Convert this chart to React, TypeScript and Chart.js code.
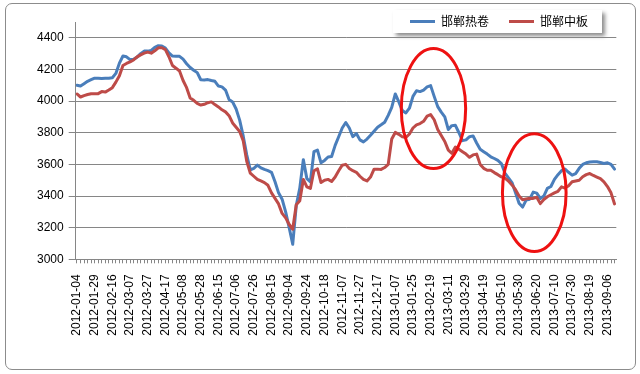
import React, { useEffect, useRef } from 'react';
import { Chart, registerables } from 'chart.js';

Chart.register(...registerables);

// ---------- data ----------
const seriesNames = ['邯郸热卷', '邯郸中板'];

const xTickLabels = [
  '2012-01-04', '2012-01-29', '2012-02-16', '2012-03-07', '2012-03-27', '2012-04-17',
  '2012-05-08', '2012-05-28', '2012-06-15', '2012-07-06', '2012-07-26', '2012-08-15',
  '2012-09-04', '2012-09-24', '2012-10-18', '2012-11-07', '2012-11-27', '2012-12-17',
  '2013-01-07', '2013-01-25', '2013-02-19', '2013-03-11', '2013-03-29', '2013-04-19',
  '2013-05-10', '2013-05-30', '2013-06-20', '2013-07-10', '2013-07-30', '2013-08-19',
  '2013-09-06',
];
const pointsPerLabel = 5;

const hotRolled = [
  4100, 4095, 4110, 4125, 4135, 4145, 4145, 4143, 4145, 4144, 4148, 4175, 4240, 4285, 4280,
  4262, 4265, 4278, 4300, 4316, 4316, 4320, 4340, 4350, 4348, 4335, 4305, 4285, 4283, 4283,
  4265, 4236, 4212, 4195, 4180, 4135, 4134, 4136, 4130, 4125, 4095, 4090, 4070, 4010,
  3995, 3950, 3880, 3780, 3660, 3565, 3575, 3595, 3578, 3568, 3560, 3550, 3490, 3420, 3380,
  3300, 3200, 3095, 3340, 3450, 3630, 3510, 3490, 3680, 3690, 3610, 3625, 3647, 3650,
  3720, 3775, 3830, 3865, 3830, 3775, 3795, 3755, 3742, 3760, 3784, 3810, 3835, 3850, 3866,
  3910, 3960, 4045, 3995, 3940, 3925, 3955, 4030, 4065, 4060, 4070, 4090, 4098, 4030,
  3965, 3930, 3900, 3820, 3845, 3847, 3800, 3750, 3755, 3775, 3780, 3735, 3695, 3680, 3665,
  3648, 3637, 3625, 3605, 3545, 3515, 3485, 3420, 3355, 3330, 3374, 3380, 3425, 3418,
  3385, 3400, 3448, 3460, 3505, 3535, 3560, 3570, 3550, 3532, 3542, 3575, 3600, 3610, 3615,
  3616, 3616, 3612, 3606, 3610, 3600, 3570,
];

const mediumPlate = [
  4045, 4026, 4035, 4042, 4047, 4047, 4047, 4060, 4057, 4070, 4085, 4120, 4160, 4225, 4238,
  4248, 4260, 4280, 4292, 4303, 4310, 4303, 4318, 4337, 4337, 4325, 4280, 4225, 4208, 4190,
  4130, 4085, 4020, 4005, 3985, 3975, 3980, 3990, 3995, 3978, 3963, 3945, 3932, 3908,
  3862, 3835, 3808, 3750, 3620, 3545, 3525, 3505, 3495, 3485, 3468, 3420, 3385, 3350, 3290,
  3262, 3220, 3190, 3345, 3370, 3505, 3458, 3448, 3560, 3572, 3485, 3500, 3505, 3492,
  3520, 3560, 3595, 3600, 3574, 3560, 3550, 3525, 3505, 3495, 3520, 3570, 3570, 3568, 3580,
  3600, 3760, 3802, 3790, 3774, 3770, 3792, 3830, 3850, 3858, 3872, 3905, 3915, 3882,
  3820, 3782, 3745, 3690, 3670, 3710, 3695, 3680, 3665, 3645, 3660, 3665, 3600, 3575, 3563,
  3563, 3548, 3535, 3521, 3513, 3495, 3470, 3440, 3400, 3376, 3382, 3386, 3385, 3392,
  3352, 3378, 3395, 3408, 3420, 3430, 3458, 3450, 3465, 3490, 3495, 3500, 3522, 3535, 3542,
  3530, 3520, 3510, 3490, 3460, 3420, 3350,
];

const yTickValues = [3000, 3200, 3400, 3600, 3800, 4000, 4200, 4400];
const yMin = 3000;
const yMax = 4500;

// hand-drawn highlight ellipses, in data units (index, price)
const highlightEllipses = [
  { xCenter: 100.8, yCenter: 3953, xRadius: 9.1, yRadius: 379 },
  { xCenter: 129.3, yCenter: 3421, xRadius: 9.0, yRadius: 372 },
];

// ---------- styles ----------
const BLUE = '#4A7EBB';
const RED = '#BE4B48';
const AXIS = '#868686';
const ELLIPSE = '#ee1111';
const LATIN = '"Liberation Sans", Arial, sans-serif';
const CJK = '"Noto Sans CJK SC", "Noto Sans", sans-serif';

const legendPlacement = {
  id: 'legendPlacement',
  afterLayout(chart: any) {
    const lg = chart.legend;
    if (!lg) return;
    lg.left = 390;
    lg.top = -4.5;
    lg.bottom = lg.top + 44;
  },
};

const legendBackground = {
  id: 'legendBackground',
  beforeDraw(chart: any) {
    const lg = chart.legend;
    if (!lg || !lg.legendHitBoxes || !lg.legendHitBoxes.length) return;
    const hb = lg.legendHitBoxes;
    const first = hb[0];
    const last = hb[hb.length - 1];
    const cy = first.top + first.height / 2;
    const x0 = first.left - 17;
    const x1 = last.left + last.width + 14;
    const ctx = chart.ctx;
    ctx.save();
    ctx.shadowColor = 'rgba(0,0,0,0.45)';
    ctx.shadowBlur = 4;
    ctx.shadowOffsetX = 3;
    ctx.shadowOffsetY = 3;
    ctx.fillStyle = '#ffffff';
    ctx.fillRect(x0, cy - 11.5, x1 - x0, 23);
    ctx.restore();
  },
};

const ellipsePlugin = {
  id: 'highlightEllipses',
  afterDatasetsDraw(chart: any) {
    const xs = chart.scales.x;
    const ys = chart.scales.y;
    const ctx = chart.ctx;
    ctx.save();
    ctx.strokeStyle = ELLIPSE;
    ctx.lineWidth = 3;
    for (const e of highlightEllipses) {
      const cx = xs.getPixelForValue(e.xCenter);
      const cy = ys.getPixelForValue(e.yCenter);
      const rx = Math.abs(xs.getPixelForValue(e.xCenter + e.xRadius) - cx);
      const ry = Math.abs(ys.getPixelForValue(e.yCenter + e.yRadius) - cy);
      ctx.beginPath();
      ctx.ellipse(cx, cy, rx, ry, 0, 0, Math.PI * 2);
      ctx.stroke();
    }
    ctx.restore();
  },
};

export default function App() {
  const ref = useRef<HTMLCanvasElement>(null);

  useEffect(() => {
    const canvas = ref.current;
    if (!canvas) return;
    const toPoints = (arr: number[]) => arr.map((v, i) => ({ x: i, y: v }));
    const chart = new Chart(canvas, {
      type: 'line',
      data: {
        datasets: [
          {
            label: seriesNames[0],
            data: toPoints(hotRolled),
            borderColor: BLUE,
            backgroundColor: BLUE,
            borderWidth: 3,
            pointRadius: 0,
            tension: 0,
            borderJoinStyle: 'round',
            borderCapStyle: 'round',
            order: 2,
          },
          {
            label: seriesNames[1],
            data: toPoints(mediumPlate),
            borderColor: RED,
            backgroundColor: RED,
            borderWidth: 3,
            pointRadius: 0,
            tension: 0,
            borderJoinStyle: 'round',
            borderCapStyle: 'round',
            order: 1,
          },
        ],
      },
      options: {
        animation: false,
        responsive: false,
        devicePixelRatio: 1,
        layout: { padding: { top: 0, right: 14, bottom: 0, left: 0 } },
        plugins: {
          tooltip: { enabled: false },
          legend: {
            position: 'top',
            align: 'start',
            maxHeight: 22,
            labels: {
              boxWidth: 25,
              boxHeight: 3,
              padding: 20,
              color: '#000',
              font: { family: CJK, size: 12 },
              generateLabels: (c: any) =>
                c.data.datasets.map((ds: any, i: number) => ({
                  text: ds.label,
                  fillStyle: ds.borderColor,
                  strokeStyle: ds.borderColor,
                  lineWidth: 0,
                  hidden: false,
                  datasetIndex: i,
                })),
            },
          },
        },
        scales: {
          x: {
            type: 'linear',
            min: -0.36,
            max: 152.5,
            afterBuildTicks: (s: any) => {
              s.ticks = hotRolled.map((_, i) => ({ value: i }));
            },
            afterFit: (s: any) => {
              s.height = 114.7;
            },
            grid: { drawOnChartArea: false, drawTicks: true, tickLength: 4, color: AXIS },
            border: { display: true, color: AXIS, width: 1 },
            ticks: {
              autoSkip: false,
              minRotation: 90,
              maxRotation: 90,
              padding: 11,
              color: '#000',
              font: { family: LATIN, size: 12 },
              callback: (value: any) => {
                const i = Math.round(Number(value));
                if (i % pointsPerLabel !== 0) return '';
                return xTickLabels[i / pointsPerLabel] ?? '';
              },
            },
          },
          y: {
            type: 'linear',
            min: yMin,
            max: yMax,
            afterBuildTicks: (s: any) => {
              s.ticks = yTickValues.map((v) => ({ value: v }));
            },
            afterFit: (s: any) => {
              s.width = 75.7;
            },
            grid: { color: AXIS, lineWidth: 1, tickLength: 7 },
            border: { display: true, color: AXIS, width: 1 },
            ticks: {
              padding: 5,
              color: '#000',
              font: { family: LATIN, size: 12 },
              callback: (value: any) => String(value),
            },
          },
        },
      },
      plugins: [legendPlacement, legendBackground, ellipsePlugin],
    } as any);
    return () => chart.destroy();
  }, []);

  return (
    <div
      style={{
        position: 'fixed',
        left: 0,
        top: 0,
        width: 640,
        height: 374,
        background: '#ffffff',
        overflow: 'hidden',
      }}
    >
      <div
        style={{
          position: 'absolute',
          left: 5,
          top: 3,
          width: 631,
          height: 367,
          boxSizing: 'border-box',
          border: '1px solid #8c8c8c',
          borderRadius: 7,
        }}
      />
      <canvas
        ref={ref}
        width={640}
        height={374}
        style={{ position: 'absolute', left: 0, top: 0, width: 640, height: 374 }}
      />
    </div>
  );
}
